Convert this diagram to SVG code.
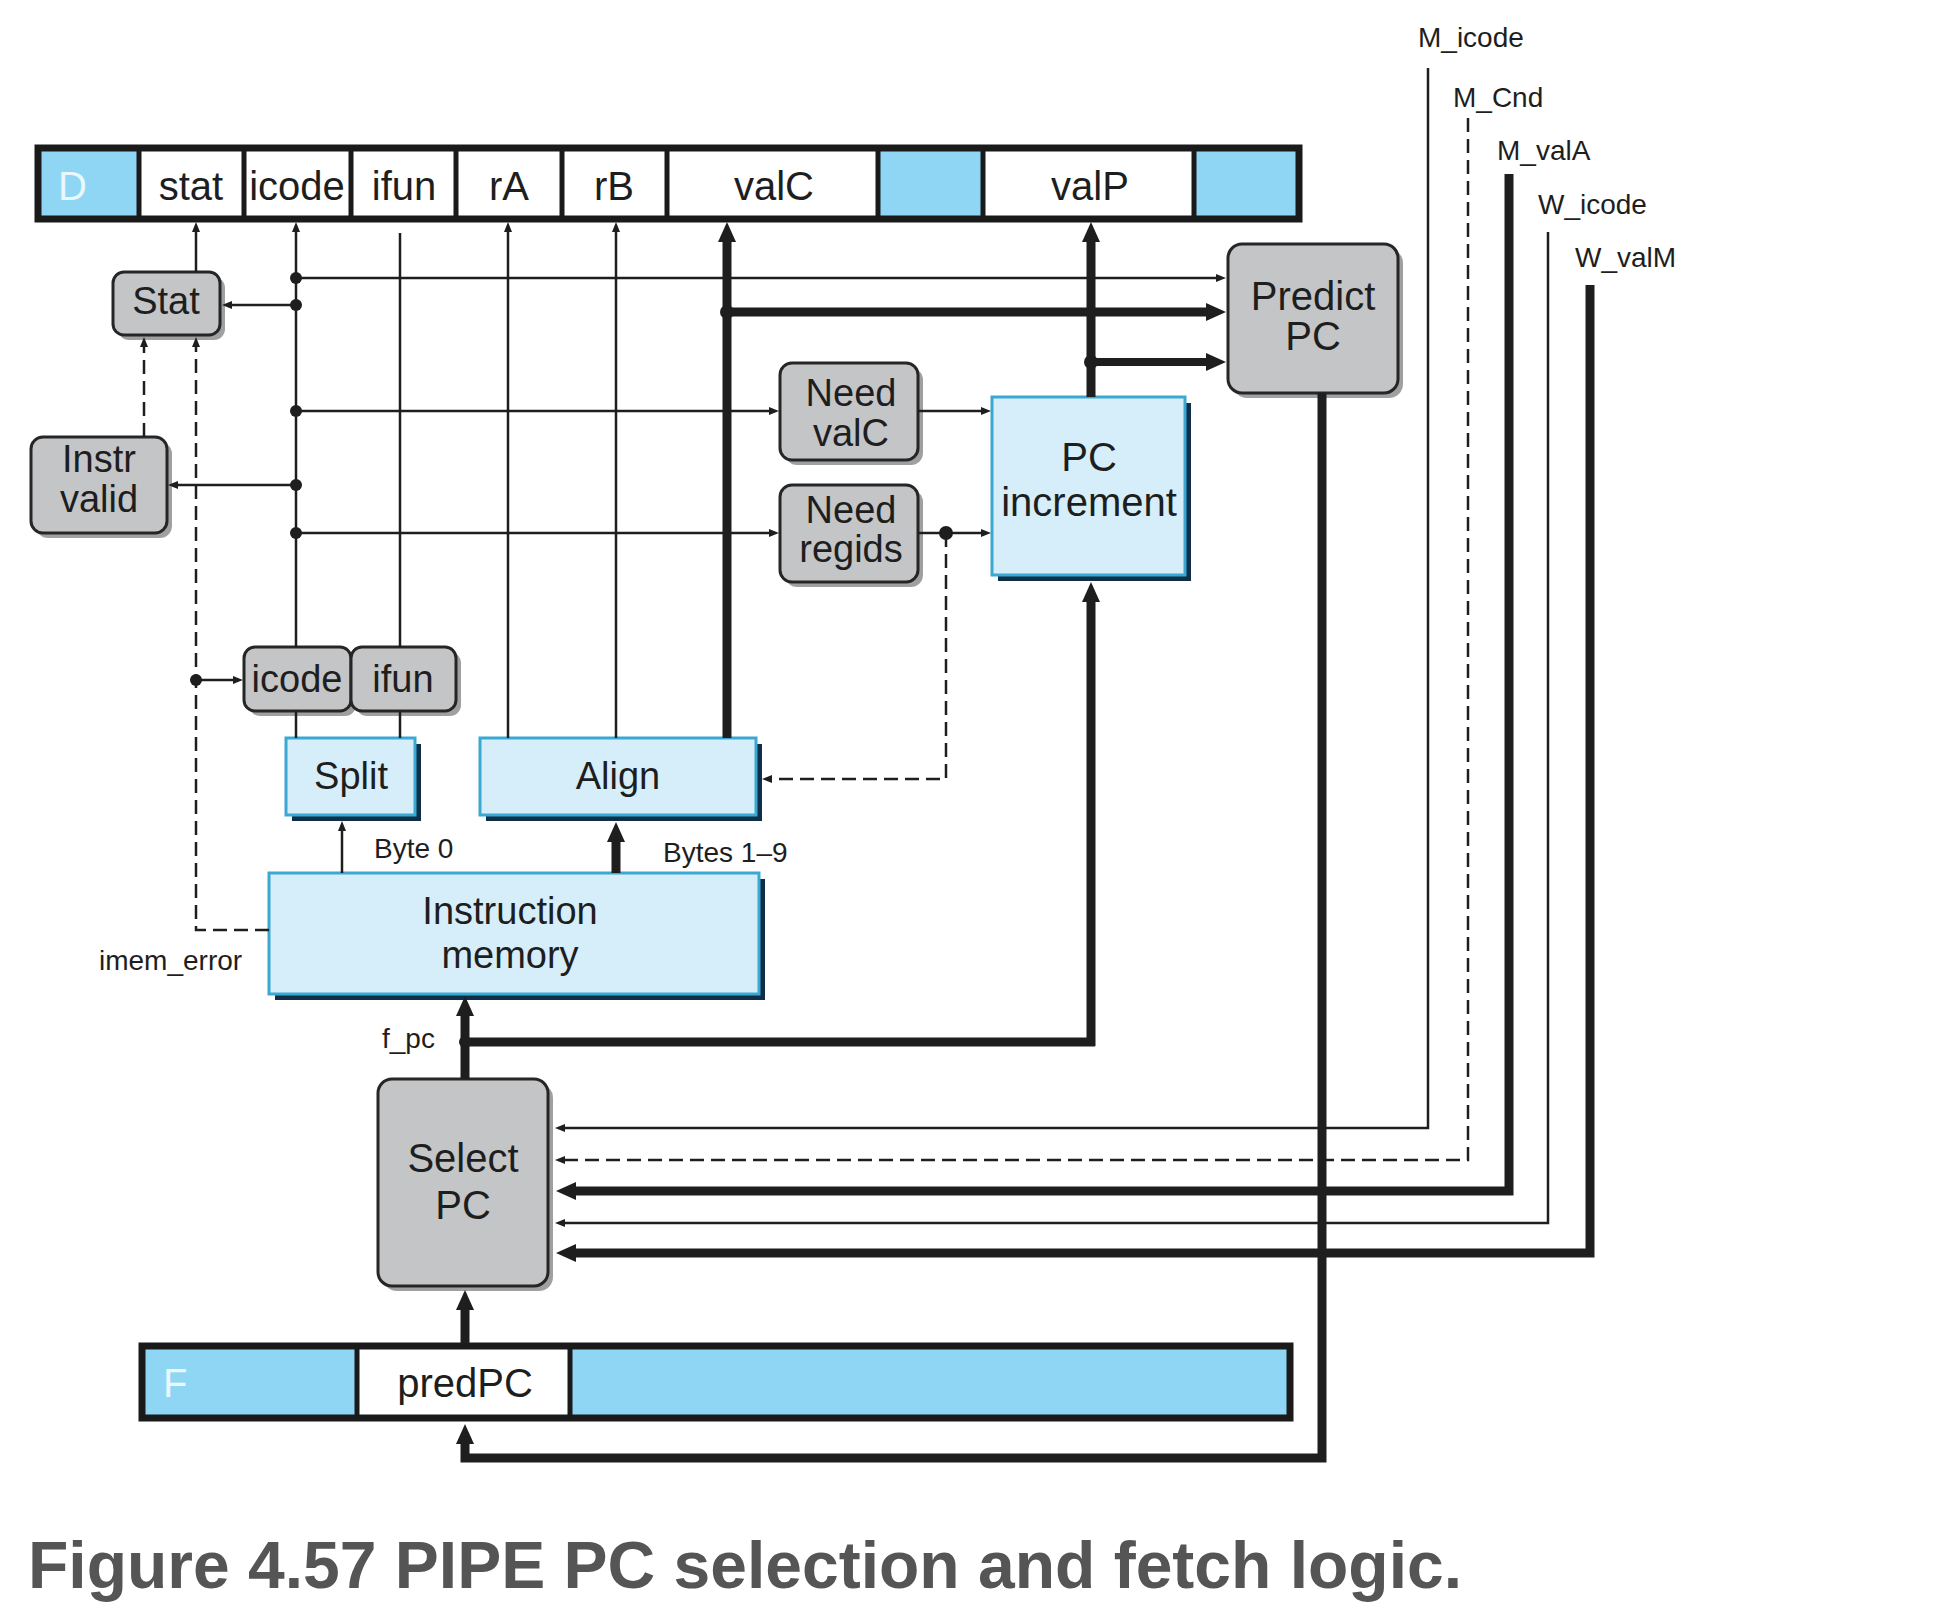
<svg xmlns="http://www.w3.org/2000/svg" width="1940" height="1618" viewBox="0 0 1940 1618">
<style>
text{font-family:"Liberation Sans",Arial,sans-serif;fill:#1e1e1e}
.big{font-size:40px}
.box{font-size:38px}
.sm{font-size:28px}
.cap{font-size:66px;font-weight:bold;fill:#555555}
.regw{fill:#ffffff}
.regb{fill:#8ed6f4}
.regframe{fill:none;stroke:#1a1a1a;stroke-width:7}
.div{stroke:#1a1a1a;stroke-width:5}
.gray{fill:#c4c5c7;stroke:#262626;stroke-width:3}
.gsh{fill:#8f8f8f;opacity:.85}
.blue{fill:#d6eefa;stroke:#3aa8d3;stroke-width:3}
.bsh{fill:#0e2f47}
.w{fill:none;stroke:#1e1e1e;stroke-width:2.5}
.t{fill:none;stroke:#1e1e1e;stroke-width:9}
.d{stroke-dasharray:14 7}
.dot{fill:#1e1e1e}
</style>
<defs>
<marker id="a" viewBox="0 0 10 8" refX="0" refY="4" markerWidth="10" markerHeight="8" markerUnits="userSpaceOnUse" orient="auto"><path d="M0,0 L10,4 L0,8 z" fill="#1e1e1e"/></marker>
<marker id="A" viewBox="0 0 20 18" refX="0" refY="9" markerWidth="20" markerHeight="18" markerUnits="userSpaceOnUse" orient="auto"><path d="M0,0 L20,9 L0,18 z" fill="#1e1e1e"/></marker>
</defs>
<rect width="1940" height="1618" fill="#ffffff"/>

<g id="reg-D">
<rect x="38" y="148" width="1261" height="71" class="regw"/>
<rect x="38" y="148" width="101" height="71" class="regb"/>
<rect x="878" y="148" width="105" height="71" class="regb"/>
<rect x="1194" y="148" width="105" height="71" class="regb"/>
<path class="div" d="M139 148V219M244 148V219M351 148V219M456 148V219M562 148V219M667 148V219M878 148V219M983 148V219M1194 148V219"/>
<rect x="38" y="148" width="1261" height="71" class="regframe"/>
<text x="58" y="200" class="big" style="fill:#eaf7fd">D</text>
<text x="191" y="200" class="big" text-anchor="middle">stat</text>
<text x="297" y="200" class="big" text-anchor="middle">icode</text>
<text x="404" y="200" class="big" text-anchor="middle">ifun</text>
<text x="509" y="200" class="big" text-anchor="middle">rA</text>
<text x="614" y="200" class="big" text-anchor="middle">rB</text>
<text x="774" y="200" class="big" text-anchor="middle">valC</text>
<text x="1090" y="200" class="big" text-anchor="middle">valP</text>
</g>

<g id="stat">
<rect x="118" y="277" width="107" height="63" rx="11" class="gsh"/>
<rect x="113" y="272" width="107" height="63" rx="11" class="gray"/>
<text x="166" y="314" class="box" text-anchor="middle">Stat</text>
</g>

<g id="instr-valid">
<rect x="36" y="442" width="136" height="96" rx="12" class="gsh"/>
<rect x="31" y="437" width="136" height="96" rx="12" class="gray"/>
<text x="99" y="472" class="box" text-anchor="middle">Instr</text>
<text x="99" y="512" class="box" text-anchor="middle">valid</text>
</g>

<g id="need-valc">
<rect x="785" y="368" width="138" height="97" rx="12" class="gsh"/>
<rect x="780" y="363" width="138" height="97" rx="12" class="gray"/>
<text x="851" y="406" class="box" text-anchor="middle">Need</text>
<text x="851" y="446" class="box" text-anchor="middle">valC</text>
</g>

<g id="need-regids">
<rect x="785" y="490" width="138" height="97" rx="12" class="gsh"/>
<rect x="780" y="485" width="138" height="97" rx="12" class="gray"/>
<text x="851" y="523" class="box" text-anchor="middle">Need</text>
<text x="851" y="562" class="box" text-anchor="middle">regids</text>
</g>

<g id="pc-increment">
<rect x="998" y="403" width="193" height="178" class="bsh"/>
<rect x="992" y="397" width="193" height="178" class="blue"/>
<text x="1089" y="471" class="big" text-anchor="middle">PC</text>
<text x="1089" y="516" class="big" text-anchor="middle">increment</text>
</g>

<g id="predict-pc">
<rect x="1233" y="249" width="170" height="149" rx="14" class="gsh"/>
<rect x="1228" y="244" width="170" height="149" rx="14" class="gray"/>
<text x="1313" y="310" class="big" text-anchor="middle">Predict</text>
<text x="1313" y="350" class="big" text-anchor="middle">PC</text>
</g>

<g id="icode-ifun">
<rect x="249" y="652" width="107" height="64" rx="11" class="gsh"/>
<rect x="356" y="652" width="105" height="64" rx="11" class="gsh"/>
<rect x="244" y="647" width="107" height="64" rx="11" class="gray"/>
<rect x="351" y="647" width="105" height="64" rx="11" class="gray"/>
<text x="297" y="692" class="box" text-anchor="middle">icode</text>
<text x="403" y="692" class="box" text-anchor="middle">ifun</text>
</g>

<g id="split">
<rect x="292" y="744" width="129" height="77" class="bsh"/>
<rect x="286" y="738" width="129" height="77" class="blue"/>
<text x="351" y="789" class="box" text-anchor="middle">Split</text>
</g>

<g id="align">
<rect x="486" y="744" width="276" height="77" class="bsh"/>
<rect x="480" y="738" width="276" height="77" class="blue"/>
<text x="618" y="789" class="box" text-anchor="middle">Align</text>
</g>

<g id="instruction-memory">
<rect x="275" y="879" width="490" height="121" class="bsh"/>
<rect x="269" y="873" width="490" height="121" class="blue"/>
<text x="510" y="924" class="box" text-anchor="middle">Instruction</text>
<text x="510" y="968" class="box" text-anchor="middle">memory</text>
</g>

<g id="select-pc">
<rect x="383" y="1084" width="170" height="207" rx="14" class="gsh"/>
<rect x="378" y="1079" width="170" height="207" rx="14" class="gray"/>
<text x="463" y="1172" class="big" text-anchor="middle">Select</text>
<text x="463" y="1219" class="big" text-anchor="middle">PC</text>
</g>

<g id="reg-F">
<rect x="142" y="1346" width="1148" height="72" class="regb"/>
<rect x="357" y="1346" width="213" height="72" class="regw"/>
<path class="div" d="M357 1346V1418M570 1346V1418"/>
<rect x="142" y="1346" width="1148" height="72" class="regframe"/>
<text x="163" y="1397" class="big" style="fill:#eaf7fd">F</text>
<text x="465" y="1397" class="big" text-anchor="middle">predPC</text>
</g>

<g id="connectors">
<g class="w">
<path d="M196 272V232" marker-end="url(#a)"/>
<path d="M296 647V232" marker-end="url(#a)"/>
<path d="M400 647V233"/>
<path d="M508 738V232" marker-end="url(#a)"/>
<path d="M616 738V232" marker-end="url(#a)"/>
<path d="M296 278H1216" marker-end="url(#a)"/>
<path d="M296 305H232" marker-end="url(#a)"/>
<path d="M296 411H769" marker-end="url(#a)"/>
<path d="M296 485H178" marker-end="url(#a)"/>
<path d="M296 533H769" marker-end="url(#a)"/>
<path d="M918 411H981" marker-end="url(#a)"/>
<path d="M918 533H981" marker-end="url(#a)"/>
<path d="M296 711V738M400 711V738"/>
<path d="M196 680H233" marker-end="url(#a)"/>
<path d="M342 873V831" marker-end="url(#a)"/>
<path d="M1428 68V1128H565" marker-end="url(#a)"/>
<path d="M1548 232V1223H565" marker-end="url(#a)"/>
<path class="d" d="M946 533V779H772" marker-end="url(#a)"/>
<path class="d" d="M269 930H196V347" marker-end="url(#a)"/>
<path class="d" d="M144 437V347" marker-end="url(#a)"/>
<path class="d" d="M1468 118V1160H565" marker-end="url(#a)"/>
</g>
<g class="t">
<path d="M727 738V242" marker-end="url(#A)"/>
<path d="M727 312H1206" marker-end="url(#A)"/>
<path d="M1091 397V242" marker-end="url(#A)"/>
<path d="M1091 362H1206" stroke-width="8" marker-end="url(#A)"/>
<path d="M616 873V842" marker-end="url(#A)"/>
<path d="M465 1079V1016" marker-end="url(#A)"/>
<path d="M1095 1042H465"/>
<path d="M1091 1046V602" marker-end="url(#A)"/>
<path d="M1322 393V1458H465V1444" marker-end="url(#A)"/>
<path d="M465 1343V1310" marker-end="url(#A)"/>
<path d="M1509 174V1191H576" marker-end="url(#A)"/>
<path d="M1590 285V1253H576" marker-end="url(#A)"/>
</g>
<g class="dot">
<circle cx="296" cy="278" r="6"/>
<circle cx="296" cy="305" r="6"/>
<circle cx="296" cy="411" r="6"/>
<circle cx="296" cy="485" r="6"/>
<circle cx="296" cy="533" r="6"/>
<circle cx="727" cy="312" r="7"/>
<circle cx="1091" cy="362" r="7"/>
<circle cx="946" cy="533" r="7"/>
<circle cx="196" cy="680" r="6"/>
<circle cx="465" cy="1042" r="6"/>
</g>
</g>

<g id="labels">
<text x="1418" y="47" class="sm">M_icode</text>
<text x="1453" y="107" class="sm">M_Cnd</text>
<text x="1497" y="160" class="sm">M_valA</text>
<text x="1538" y="214" class="sm">W_icode</text>
<text x="1575" y="267" class="sm">W_valM</text>
<text x="374" y="858" class="sm">Byte 0</text>
<text x="663" y="862" class="sm">Bytes 1–9</text>
<text x="99" y="970" class="sm">imem_error</text>
<text x="382" y="1048" class="sm">f_pc</text>
</g>

<text x="28" y="1588" class="cap">Figure 4.57 PIPE PC selection and fetch logic.</text>
</svg>
